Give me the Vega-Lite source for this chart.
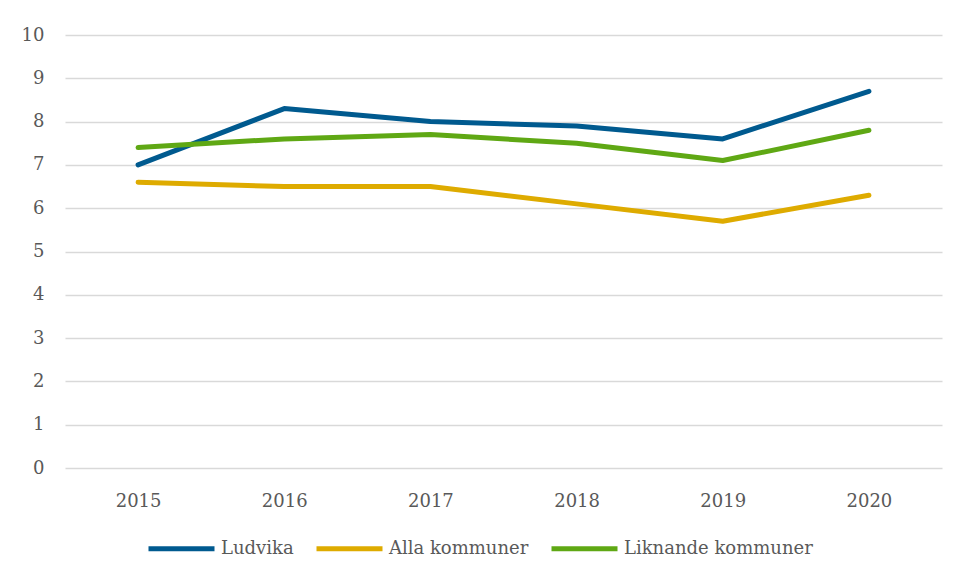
{
  "$schema": "https://vega.github.io/schema/vega-lite/v6.json",
  "width": 877,
  "height": 433,
  "autosize": {"type": "none"},
  "padding": {"left": 65, "top": 35, "right": 14, "bottom": 108},
  "background": "white",
  "data": {
    "values": [
      {"year": "2015", "series": "Ludvika", "value": 7.0},
      {"year": "2016", "series": "Ludvika", "value": 8.3},
      {"year": "2017", "series": "Ludvika", "value": 8.0},
      {"year": "2018", "series": "Ludvika", "value": 7.9},
      {"year": "2019", "series": "Ludvika", "value": 7.6},
      {"year": "2020", "series": "Ludvika", "value": 8.7},
      {"year": "2015", "series": "Alla kommuner", "value": 6.6},
      {"year": "2016", "series": "Alla kommuner", "value": 6.5},
      {"year": "2017", "series": "Alla kommuner", "value": 6.5},
      {"year": "2018", "series": "Alla kommuner", "value": 6.1},
      {"year": "2019", "series": "Alla kommuner", "value": 5.7},
      {"year": "2020", "series": "Alla kommuner", "value": 6.3},
      {"year": "2015", "series": "Liknande kommuner", "value": 7.4},
      {"year": "2016", "series": "Liknande kommuner", "value": 7.6},
      {"year": "2017", "series": "Liknande kommuner", "value": 7.7},
      {"year": "2018", "series": "Liknande kommuner", "value": 7.5},
      {"year": "2019", "series": "Liknande kommuner", "value": 7.1},
      {"year": "2020", "series": "Liknande kommuner", "value": 7.8}
    ]
  },
  "mark": {"type": "line", "strokeWidth": 5, "strokeCap": "round", "strokeJoin": "round"},
  "encoding": {
    "x": {
      "field": "year",
      "type": "ordinal",
      "scale": {"type": "point", "padding": 0.5},
      "axis": {
        "title": null,
        "labelAngle": 0,
        "domain": false,
        "ticks": false,
        "grid": false,
        "labelPadding": 24
      }
    },
    "y": {
      "field": "value",
      "type": "quantitative",
      "scale": {"domain": [0, 10], "nice": false, "zero": true},
      "axis": {
        "title": null,
        "values": [0, 1, 2, 3, 4, 5, 6, 7, 8, 9, 10],
        "domain": false,
        "ticks": false,
        "grid": true,
        "gridColor": "#d9d9d9",
        "gridWidth": 1.5,
        "labelPadding": 21
      }
    },
    "color": {
      "field": "series",
      "type": "nominal",
      "sort": ["Ludvika", "Alla kommuner", "Liknande kommuner"],
      "scale": {
        "domain": ["Ludvika", "Alla kommuner", "Liknande kommuner"],
        "range": ["#005a8f", "#deab00", "#5fa814"]
      },
      "legend": {
        "title": null,
        "orient": "none",
        "direction": "horizontal",
        "legendX": 81,
        "legendY": 478,
        "symbolType": "stroke",
        "symbolSize": 4356,
        "symbolStrokeWidth": 5,
        "labelOffset": 4,
        "columnPadding": 12,
        "labelLimit": 400
      }
    }
  },
  "config": {
    "font": "DejaVu Serif",
    "view": {"stroke": null},
    "axis": {"labelFont": "DejaVu Serif", "labelFontSize": 18, "labelColor": "#595959"},
    "legend": {"labelFont": "DejaVu Serif", "labelFontSize": 18, "labelColor": "#595959"}
  }
}
